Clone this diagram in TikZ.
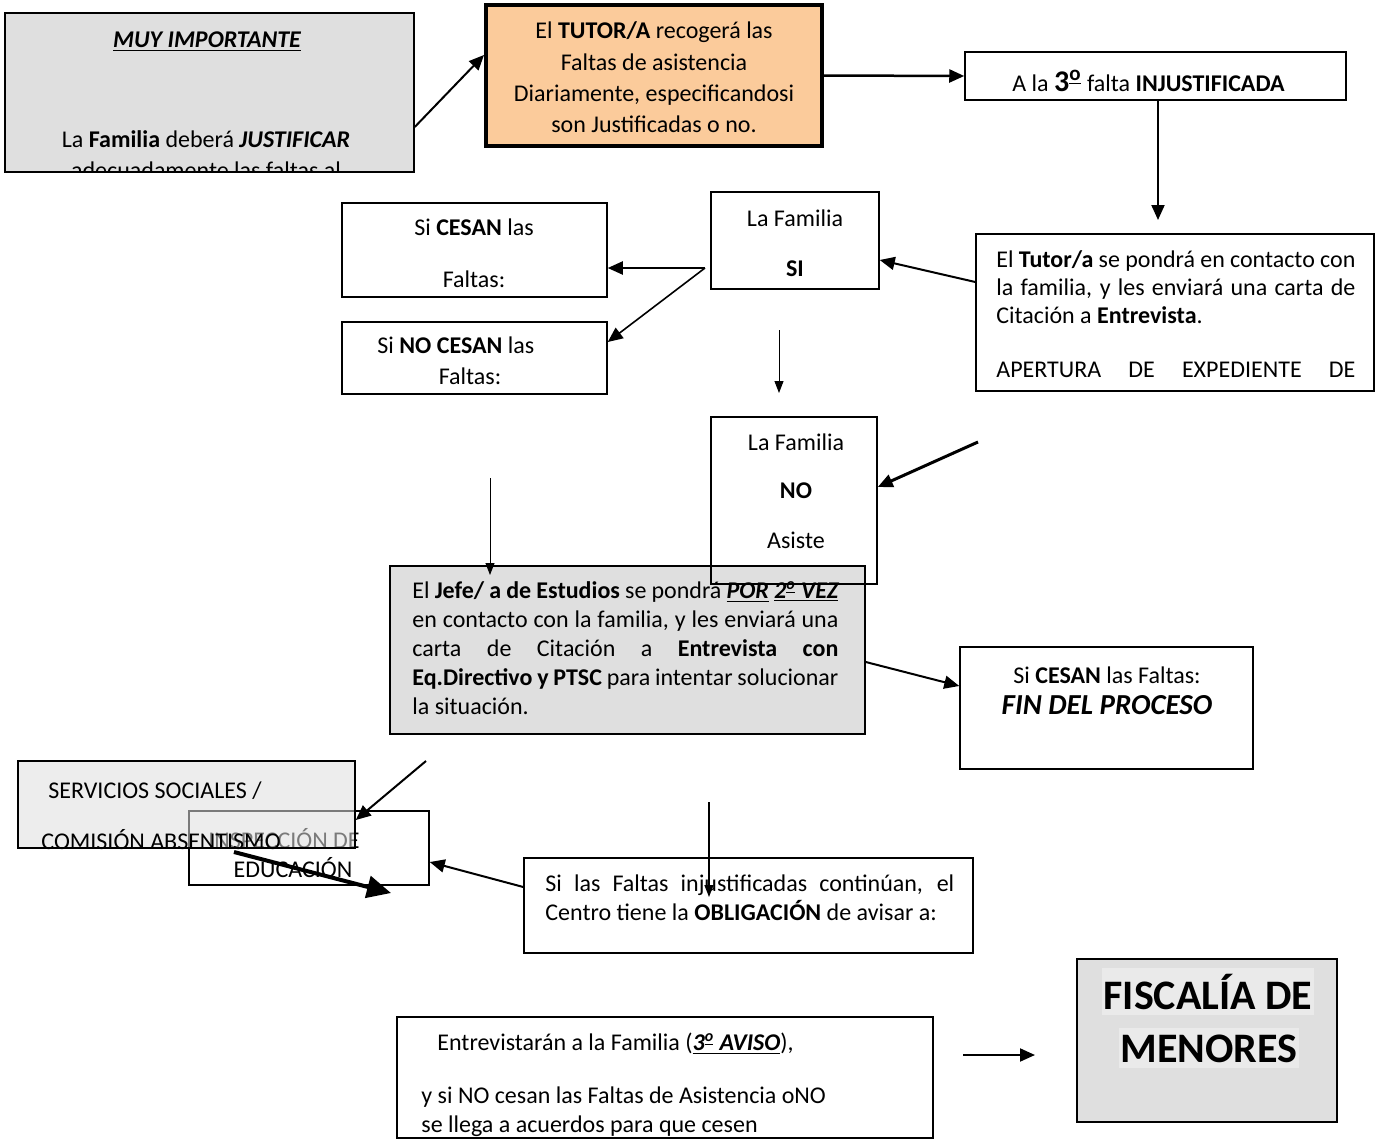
\documentclass[tikz,border=0pt]{standalone}
\usepackage{fontspec}
\setmainfont{Carlito}
\usetikzlibrary{arrows.meta,fit}
\definecolor{boxgray}{HTML}{DFDFDF}
\definecolor{orangefill}{HTML}{FBCB9B}
\definecolor{hlgray}{HTML}{EAEAEA}
\newcommand{\ordmasc}{\textsuperscript{\underline{o}}}
\begin{document}
\begin{tikzpicture}[x=0.5pt,y=-0.5pt,
  box/.style={draw, line width=0.75pt, inner sep=0pt},
  txt/.style={inner sep=0pt, anchor=base, font=\fontsize{12}{14}\selectfont},
  txtl/.style={txt, anchor=base west},
  arr/.style={line width=1pt, -{Triangle[length=7.5pt,width=6.5pt]}},
  thinarr/.style={line width=0.5pt, -{Triangle[length=6pt,width=4.5pt]}},
  heavyarr/.style={line width=2pt, -{Triangle[length=12pt,width=11pt]}}]
\useasboundingbox (0,0) rectangle (1389,1140);

% ---------- MUY IMPORTANTE ----------
\node[box, fill=boxgray, fit={(5,13) (414,172)}] (muy) {};
\begin{scope}
  \clip (5,13) rectangle (414,172);
  \node[txt] (muy1) at (207,47) {\textbf{\textit{\underline{MUY IMPORTANTE}}}};
  \node[txt] (muy2) at (206,147) {La \textbf{Familia} deberá \textbf{\textit{JUSTIFICAR}}};
  \node[txt] (muy3) at (206,178) {adecuadamente las faltas al};
\end{scope}

% ---------- TUTOR/A (orange) ----------
\node[box, line width=2pt, fill=orangefill, fit={(486,5) (822,146)}] (tutorA) {};
\node[txt] (ta1) at (654,39) {El \textbf{TUTOR/A} recogerá las};
\node[txt] (ta2) at (654,70) {Faltas de asistencia};
\node[txt] (ta3) at (654,101) {Diariamente, especificandosi};
\node[txt] (ta4) at (654,132) {son Justificadas o no.};

% ---------- 3º falta ----------
\node[box, fit={(965,52) (1346,100)}] (tercera) {};
\node[txtl] (te1) at (1012,91) {A la \textbf{\fontsize{15}{15}\selectfont 3\ordmasc} falta \textbf{INJUSTIFICADA}};

% ---------- Tutor box ----------
\node[box, fit={(976,234) (1374,391)}] (tutorbox) {};
\node[txtl] (tb1) at (996,267) {\makebox[179.5pt][s]{El \textbf{Tutor/a} se pondrá en contacto con}};
\node[txtl] (tb2) at (996,295) {\makebox[179.5pt][s]{la familia, y les enviará una carta de}};
\node[txtl] (tb3) at (996,323) {Citación a \textbf{Entrevista}.};
\node[txtl] (tb4) at (996,377) {\makebox[179.5pt][s]{APERTURA DE EXPEDIENTE DE}};

% ---------- La Familia SI ----------
\node[box, fit={(711,192) (879,289)}] (si) {};
\node[txt] (si1) at (795,226) {La Familia};
\node[txt] (si2) at (795,276) {\textbf{SI}};

% ---------- Si CESAN ----------
\node[box, fit={(342,203) (607,297)}] (cesan) {};
\node[txt] (ce1) at (474,235) {Si \textbf{CESAN} las};
\node[txt] (ce2) at (474,287) {Faltas:};

% ---------- Si NO CESAN ----------
\node[box, fit={(342,322) (607,394)}] (nocesan) {};
\node[txtl] (nc1) at (377,353) {Si \textbf{NO CESAN} las};
\node[txt] (nc2) at (470,384) {Faltas:};

% ---------- Jefe de estudios ----------
\node[box, fill=boxgray, fit={(390,566) (865,734)}] (jefe) {};
\node[txtl] (je1) at (412,598) {\makebox[213pt][s]{El \textbf{Jefe/ a de Estudios} se pondrá \textbf{\textit{\underline{POR}}} \textbf{\textit{\underline{2\ordmasc{} VEZ}}}}};
\node[txtl] (je2) at (412,627) {\makebox[213pt][s]{en contacto con la familia, y les enviará una}};
\node[txtl] (je3) at (412,656) {\makebox[213pt][s]{carta de Citación a \textbf{Entrevista con}}};
\node[txtl] (je4) at (412,685) {\makebox[213pt][s]{\textbf{Eq.Directivo y PTSC} para intentar solucionar}};
\node[txtl] (je5) at (412,714) {la situación.};

% ---------- La Familia NO Asiste (drawn over Jefe) ----------
\node[box, fit={(711,417) (877,584)}] (no) {};
\node[txt] (no1) at (796,450) {La Familia};
\node[txt] (no2) at (796,498) {\textbf{NO}};
\node[txt] (no3) at (796,548) {Asiste};

% ---------- FIN DEL PROCESO ----------
\node[box, fit={(960,647) (1253,769)}] (fin) {};
\node[txt] (fi1) at (1107,683) {Si \textbf{CESAN} las Faltas:};
\node[txt, font=\fontsize{14.5}{16}\selectfont] (fi2) at (1107,714) {\textbf{\textit{FIN DEL PROCESO}}};

% ---------- Inspeccion / Servicios sociales ----------
\node[box, fit={(189,811) (429,885)}] (insp) {};
\node[txt] (in1) at (284,848) {INSPECCIÓN DE};
\node[txt] (in2) at (293,877) {EDUCACIÓN};
\node[box, fill=boxgray, fill opacity=0.55, fit={(18,761) (355,848)}] (serv) {};
\node[txtl] (se1) at (48,798) {SERVICIOS SOCIALES /};
\node[txtl] (se2) at (41,849) {COMISIÓN ABSENTISMO};

% ---------- Si las faltas continuan ----------
\node[box, fit={(524,858) (973,953)}] (sifaltas) {};
\node[txtl] (sf1) at (545,891) {\makebox[204.5pt][s]{Si las Faltas injustificadas continúan, el}};
\node[txtl] (sf2) at (545,920) {Centro tiene la \textbf{OBLIGACIÓN} de avisar a:};

% ---------- Entrevistaran ----------
\node[box, fit={(397,1017) (933,1138)}] (entrev) {};
\node[txtl] (en1) at (437,1050) {Entrevistarán a la Familia (\textbf{\textit{\underline{3\ordmasc{} AVISO}}}),};
\node[txtl] (en2) at (421,1103) {y si NO cesan las Faltas de Asistencia oNO};
\node[txtl] (en3) at (421,1132) {se llega a acuerdos para que cesen};

% ---------- FISCALIA ----------
\node[box, line width=1pt, fill=boxgray, fit={(1077,959) (1337,1122)}] (fisc) {};
\node[txt, font=\fontsize{21}{24}\selectfont\bfseries, fill=hlgray, inner xsep=1pt, inner ysep=3pt] (fs1) at (1208,1009) {FISCALÍA DE};
\node[txt, font=\fontsize{21}{24}\selectfont\bfseries, fill=hlgray, inner xsep=1pt, inner ysep=3pt] (fs2) at (1209,1062) {MENORES};

% ---------- free connector ends ----------
\coordinate (t3tip) at (1158,220);
\coordinate (fork) at (705,268);
\coordinate (sidown1) at (779,330);
\coordinate (sidown2) at (779,393);
\coordinate (nostart) at (978,442);
\coordinate (jdown1) at (490,478);
\coordinate (jdown2) at (490,575);
\coordinate (servstart) at (426,761);
\coordinate (hvstart) at (234,852);
\coordinate (hvtip) at (391,893);
\coordinate (ctdown1) at (709,802);
\coordinate (ctdown2) at (709,897);
\coordinate (fsstart) at (963,1055);
\coordinate (fstip) at (1035,1055);

% ---------- connectors ----------
\draw[arr] (muy.east |- 0,127) -- (tutorA.west |- 0,55);
\draw[arr, line width=1.25pt] (tutorA.east) -- (tercera.west);
\draw[arr] (tercera.south -| t3tip) -- (t3tip);
\draw[arr] (tutorbox.west |- 0,282) -- (si.east |- 0,260);
\draw[arr] (fork) -- (cesan.east |- fork);
\draw[arr, line width=0.8pt] (fork) -- (nocesan.east |- 0,342);
\draw[thinarr] (sidown1) -- (sidown2);
\draw[arr, line width=1.5pt] (nostart) -- (no.east |- 0,487);
\draw[thinarr] (jdown1) -- (jdown2);
\draw[arr] (jefe.east |- 0,662) -- (fin.west |- 0,686);
\draw[arr] (servstart) -- (serv.east |- 0,820);
\draw[heavyarr] (hvstart) -- (hvtip);
\draw[arr] (sifaltas.west |- 0,887) -- (insp.east |- 0,862);
\draw[thinarr, line width=0.75pt] (ctdown1) -- (ctdown2);
\draw[arr] (fsstart) -- (fstip);
\end{tikzpicture}
\end{document}
